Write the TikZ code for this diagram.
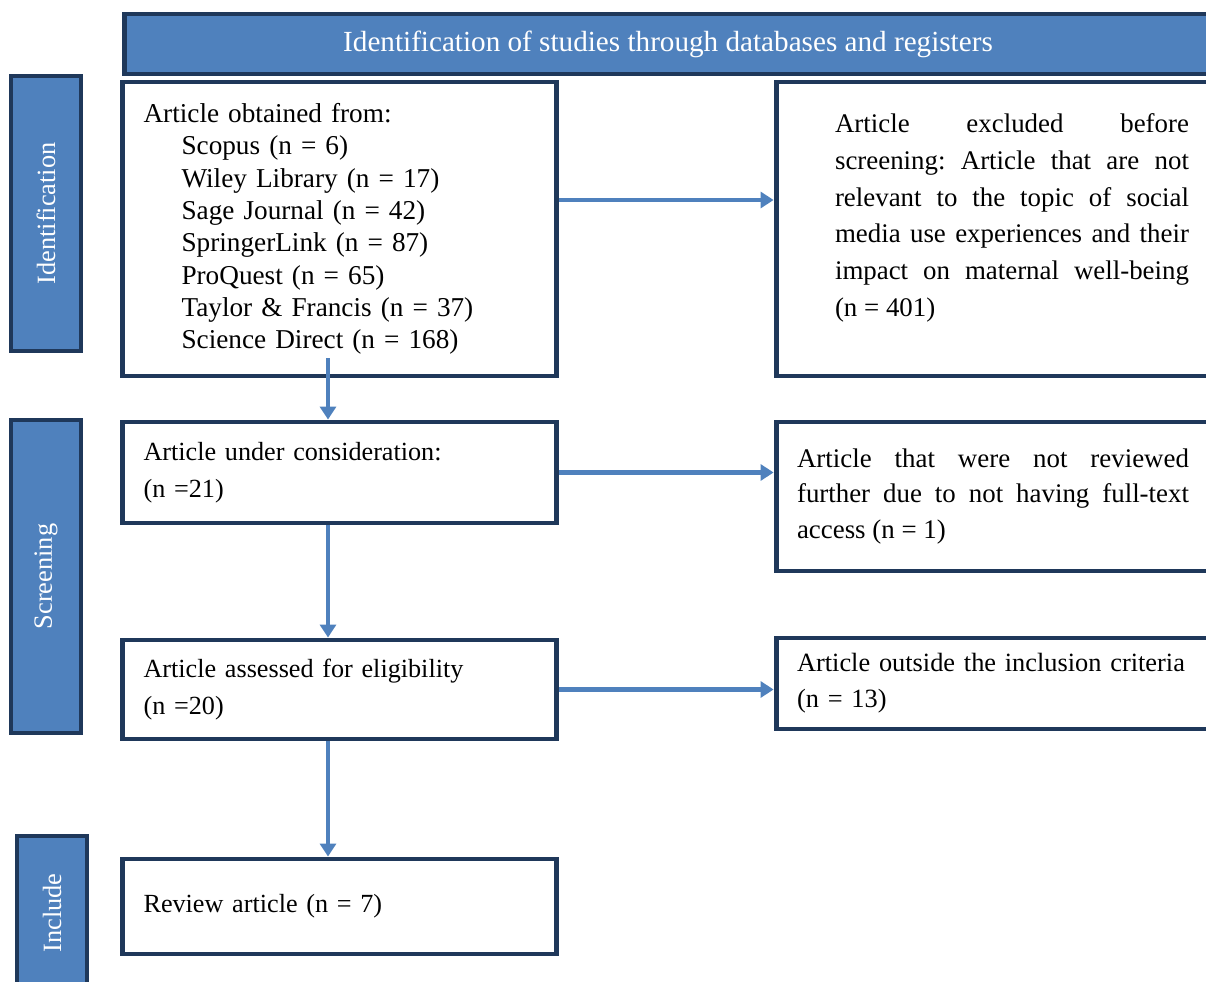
\documentclass[tikz,border=0pt]{standalone}
\usepackage{fontspec}
\setmainfont{Liberation Serif}
\usetikzlibrary{arrows.meta, positioning, calc}
\definecolor{blue1}{RGB}{79, 129, 189}
\definecolor{navy1}{RGB}{31, 56, 90}

\begin{document}
\begin{tikzpicture}[x=0.02cm, y=-0.02cm,
  stagebox/.style={draw=navy1, line width=2.8pt, fill=white, minimum width=8.68cm, text width=7.84cm, align=left, font=\fontsize{14.9pt}{21pt}\selectfont\frenchspacing},
  sidebox/.style={stagebox, font=\fontsize{15.3pt}{21pt}\selectfont\frenchspacing},
  sidebar/.style={draw=navy1, line width=2.8pt, fill=blue1, rotate=90, minimum height=1.4cm, text=white, font=\fontsize{15pt}{18pt}\selectfont},
  headbar/.style={draw=navy1, line width=2.8pt, fill=blue1, minimum width=21.76cm, minimum height=1.2cm, text=white, font=\fontsize{16.6pt}{19pt}\selectfont},
  flowarrow/.style={draw=blue1, line width=2.3pt, -{Triangle[length=0.26cm, width=0.32cm]}}]
  \useasboundingbox (0,0) rectangle (1206,982);

  % header and stage bars
  \node[headbar] (header) at (668,44) {Identification of studies through databases and registers};
  \node[sidebar, minimum width=5.5cm] (ident) at (46,213.5) {Identification};
  \node[sidebar, minimum width=6.26cm] (screen) at (46,576.5) {Screening};
  \node[sidebar, minimum width=3.08cm] (incl) at (52,913) {Include};

  % main column
  \node[stagebox, minimum height=5.88cm, font=\fontsize{15.5pt}{18.4pt}\selectfont] (obtained) at (339.5,229) {Article obtained from:\\
    \hspace*{0.76cm}Scopus (n = 6)\\
    \hspace*{0.76cm}Wiley Library (n = 17)\\
    \hspace*{0.76cm}Sage Journal (n = 42)\\
    \hspace*{0.76cm}SpringerLink (n = 87)\\
    \hspace*{0.76cm}ProQuest (n = 65)\\
    \hspace*{0.76cm}Taylor \& Francis (n = 37)\\
    \hspace*{0.76cm}Science Direct (n = 168)};
  \node[stagebox, minimum height=2.02cm] (consider) at (339.5,472.5) {Article under consideration:\\ (n =21)};
  \node[stagebox, minimum height=1.98cm] (assessed) at (339.5,689.5) {Article assessed for eligibility\\ (n =20)};
  \node[stagebox, minimum height=1.9cm] (review) at (339.5,906.5) {Review article (n = 7)};

  % excluded column
  \node[sidebox, minimum height=5.88cm, align=justify, text depth=4.25cm] (excluded) at (993,229) {\leftskip=0.76cm Article excluded before\linebreak
    screening: Article that are not\linebreak
    relevant to the topic of social\linebreak
    media use experiences and their\linebreak
    impact on maternal well-being\linebreak
    (n = 401)\par};
  \node[sidebox, minimum height=2.98cm, align=justify, font=\fontsize{15.3pt}{20pt}\selectfont\frenchspacing] (notrev) at (993,496.5) {Article that were not reviewed\linebreak
    further due to not having full-text\linebreak
    access (n = 1)};
  \node[sidebox, minimum height=1.82cm, font=\fontsize{15pt}{20.5pt}\selectfont\frenchspacing] (outside) at (993,683.5) {\hyphenpenalty=10000 Article outside the inclusion criteria\\ (n = 13)\par};

  % connectors
  \coordinate (col) at (328,0);
  \coordinate (armA) at ([yshift=0.58cm]obtained.east);
  \draw[flowarrow] (armA) -- (armA -| excluded.west);
  \draw[flowarrow] (consider.east) -- (consider.east -| notrev.west);
  \draw[flowarrow] (assessed.east) -- (assessed.east -| outside.west);
  \draw[flowarrow] (obtained.south -| col) ++(0,-20) -- (consider.north -| col);
  \draw[flowarrow] (consider.south -| col) -- (assessed.north -| col);
  \draw[flowarrow] (assessed.south -| col) -- (review.north -| col);
\end{tikzpicture}
\end{document}
